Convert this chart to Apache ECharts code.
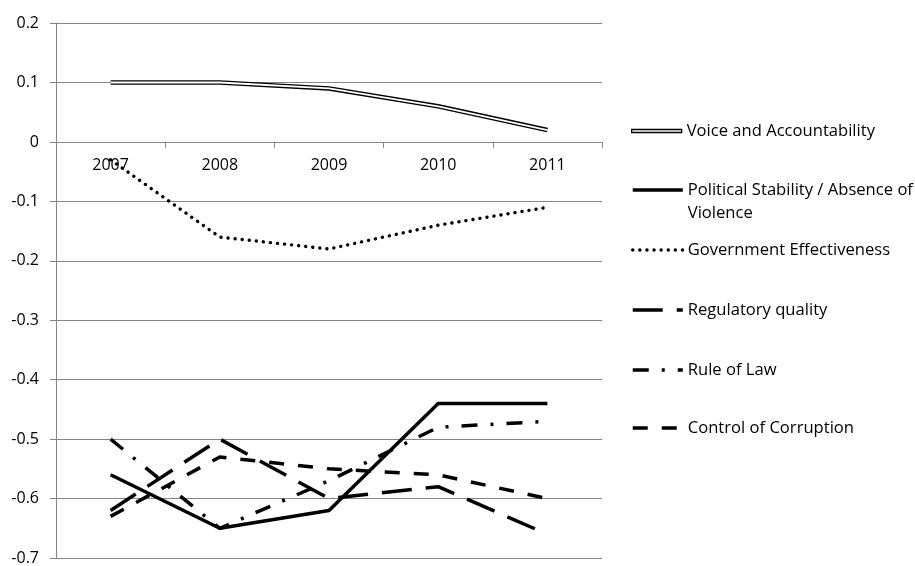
<!DOCTYPE html>
<html>
<head>
<meta charset="utf-8">
<script src="https://cdn.jsdelivr.net/npm/echarts@6/dist/echarts.min.js"></script>
<style>
  html, body { margin: 0; padding: 0; background: #ffffff; }
  #chart { width: 915px; height: 566px; }
</style>
</head>
<body>
<div id="chart"></div>
<script>
// Governance indicators, 2007-2011
const years = ['2007', '2008', '2009', '2010', '2011'];
const voiceAccountability = [0.10, 0.10, 0.09, 0.06, 0.02];
const politicalStability = [-0.56, -0.65, -0.62, -0.44, -0.44];
const governmentEffectiveness = [-0.03, -0.16, -0.18, -0.14, -0.11];
const regulatoryQuality = [-0.62, -0.50, -0.60, -0.58, -0.66];
const ruleOfLaw = [-0.50, -0.65, -0.57, -0.48, -0.47];
const controlOfCorruption = [-0.63, -0.53, -0.55, -0.56, -0.60];

const seriesNames = [
  'Voice and Accountability',
  'Political Stability / Absence of Violence',
  'Government Effectiveness',
  'Regulatory quality',
  'Rule of Law',
  'Control of Corruption'
];

const FONT = '"Open Sans", "Noto Sans", sans-serif';
const INK = '#000000';
const GRID_GREY = '#868686';
const LINE_W = 3.5;
const AXIS_FONT = 16;
const LEGEND_FONT = 16.6;

// The value scale is split at zero into two stacked panels so that the
// category axis (with its year labels) runs along the zero line:
// panel 0 holds 0 .. 0.2, panel 1 holds -0.7 .. 0.
const PLOT_LEFT = 56, PLOT_RIGHT = 313, PLOT_TOP = 23, ZERO_Y = 142, PLOT_BOTTOM = 6;

function lineSeries(name, data, panel, lineStyle, z) {
  return {
    type: 'line',
    name: name,
    data: data,
    xAxisIndex: panel,
    yAxisIndex: panel,
    symbol: 'none',
    z: z,
    silent: true,
    animation: false,
    emphasis: { disabled: true },
    itemStyle: { color: INK },
    lineStyle: Object.assign({ color: INK, width: LINE_W, cap: 'butt', join: 'round' }, lineStyle)
  };
}

const series = [
  // outlined (double) line: dark body with a white core drawn over it
  lineSeries(seriesNames[0], voiceAccountability, 0, { width: 4.6 }, 2),
  lineSeries(seriesNames[0], voiceAccountability, 0, { width: 1.8, color: '#ffffff' }, 3),
  lineSeries(seriesNames[1], politicalStability, 1, { type: 'solid' }, 4),
  lineSeries(seriesNames[2], governmentEffectiveness, 1, { type: [0.1, 7], cap: 'round', width: 3.4 }, 5),
  lineSeries(seriesNames[3], regulatoryQuality, 1, { type: [30, 14] }, 6),
  lineSeries(seriesNames[4], ruleOfLaw, 1, { type: [16, 13, 3, 13] }, 7),
  lineSeries(seriesNames[5], controlOfCorruption, 1, { type: [15, 14] }, 8)
];

// Legend: one block per entry so each row sits at its own height
const LEGEND_LEFT = 631;
const legendRowCenters = [131, 190, 250, 310, 370, 428];

function legendLabel(name) {
  // leading blank line keeps the marker level with the first text line
  return name === seriesNames[1] ? '\u00a0\nPolitical Stability / Absence of\nViolence' : name;
}

const legends = seriesNames.map(function (name, i) {
  const lines = legendLabel(name).split('\n').length;
  const lh = lines > 1 ? 23 : 20;
  const boxH = lh * lines;
  const item = { name: name };
  const legend = {
    orient: 'vertical',
    left: LEGEND_LEFT,
    top: legendRowCenters[i] - boxH / 2,
    padding: 0,
    itemGap: 0,
    itemWidth: 50,
    itemHeight: 12,
    data: [item],
    formatter: legendLabel,
    itemStyle: { opacity: 0 },
    lineStyle: { width: 'inherit', type: 'inherit', cap: 'inherit' },
    textStyle: { fontFamily: FONT, fontSize: LEGEND_FONT, color: INK, lineHeight: lh }
  };
  if (i === 0) {
    item.icon = 'rect';
    item.itemStyle = { color: '#ffffff', borderColor: INK, borderWidth: 1.3, opacity: 1 };
    legend.itemHeight = 3;
  }
  return legend;
});

const valueLabelFmt = function (v) { return String(Math.round(v * 10) / 10); };

const chart = echarts.init(document.getElementById('chart'), null, { renderer: 'canvas' });
chart.setOption({
  animation: false,
  backgroundColor: '#ffffff',
  grid: [
    { left: PLOT_LEFT, right: PLOT_RIGHT, top: PLOT_TOP, height: ZERO_Y - PLOT_TOP, containLabel: false },
    { left: PLOT_LEFT, right: PLOT_RIGHT, top: ZERO_Y, bottom: PLOT_BOTTOM, containLabel: false }
  ],
  legend: legends,
  xAxis: [
    {
      gridIndex: 0,
      type: 'category',
      data: years,
      boundaryGap: true,
      position: 'bottom',
      axisLine: { show: true, onZero: false, lineStyle: { color: GRID_GREY, width: 1 } },
      axisTick: { show: true, length: 6, lineStyle: { color: GRID_GREY, width: 1 } },
      axisLabel: { color: INK, fontFamily: FONT, fontSize: AXIS_FONT, margin: 15 },
      splitLine: { show: false }
    },
    {
      gridIndex: 1,
      type: 'category',
      data: years,
      boundaryGap: true,
      axisLine: { show: false },
      axisTick: { show: false },
      axisLabel: { show: false },
      splitLine: { show: false }
    }
  ],
  yAxis: [
    {
      gridIndex: 0,
      type: 'value',
      min: 0,
      max: 0.2,
      interval: 0.1,
      axisLine: { show: true, lineStyle: { color: GRID_GREY, width: 1 } },
      axisTick: { show: true, length: 6, lineStyle: { color: GRID_GREY, width: 1 } },
      axisLabel: { color: INK, fontFamily: FONT, fontSize: AXIS_FONT, margin: 17, formatter: valueLabelFmt },
      splitLine: { show: true, lineStyle: { color: GRID_GREY, width: 1 } }
    },
    {
      gridIndex: 1,
      type: 'value',
      min: -0.7,
      max: 0,
      interval: 0.1,
      axisLine: { show: true, lineStyle: { color: GRID_GREY, width: 1 } },
      axisTick: { show: true, length: 6, lineStyle: { color: GRID_GREY, width: 1 } },
      axisLabel: {
        color: INK, fontFamily: FONT, fontSize: AXIS_FONT, margin: 17,
        formatter: function (v) { return Math.abs(v) < 1e-9 ? '' : valueLabelFmt(v); }
      },
      splitLine: { show: true, lineStyle: { color: GRID_GREY, width: 1 } }
    }
  ],
  series: series
});
</script>
</body>
</html>
